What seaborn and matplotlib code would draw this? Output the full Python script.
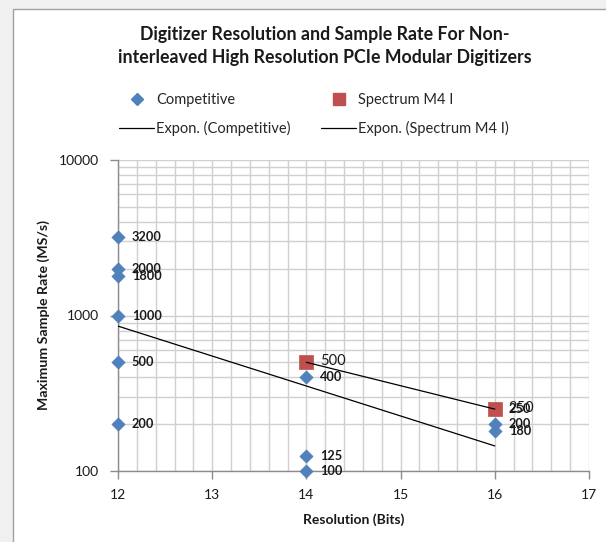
import numpy as np
import pandas as pd
import matplotlib
matplotlib.use("Agg")
import matplotlib.pyplot as plt
from matplotlib.lines import Line2D
from matplotlib.patches import Rectangle
from matplotlib.ticker import LogLocator, FixedLocator, NullFormatter, FuncFormatter
import seaborn as sns

# ---- data ----
comp_bits = [12, 12, 12, 12, 12, 12, 14, 14, 14, 16, 16, 16]
comp_rate = [3200, 2000, 1800, 1000, 500, 200, 400, 125, 100, 250, 200, 180]
spec_bits = [14, 16]
spec_rate = [500, 250]

title = "Digitizer Resolution and Sample Rate For Non-\ninterleaved High Resolution PCIe Modular Digitizers"
x_label = "Resolution (Bits)"
y_label = "Maximum Sample Rate (MS/s)"

sns.set_theme(style="white")
plt.rcParams['font.family'] = ['Lato', 'DejaVu Sans']

BLUE = "#4f81bd"
RED = "#c0504d"
GRID = "#d0d0d0"

W, H = 606, 542
fig = plt.figure(figsize=(W / 100, H / 100), dpi=100)
fig.patch.set_facecolor("#f0f0f0")
fig.patches.append(Rectangle((13 / W, -0.1), 1.2, 1.1 - 9 / H, transform=fig.transFigure,
                             facecolor="white", edgecolor="#a0a0a0", linewidth=1.0, zorder=-10))

ax = fig.add_axes([118 / W, 1 - 471 / H, (589 - 118) / W, (471 - 160) / H])
ax.set_facecolor("white")
ax.set_zorder(1)

comp_df = pd.DataFrame({"bits": comp_bits, "rate": comp_rate, "series": "Competitive"})
spec_df = pd.DataFrame({"bits": spec_bits, "rate": spec_rate, "series": "Spectrum M4 I"})

# exponential trendlines (fit in log space)
def expfit(x, y):
    x = np.asarray(x, float)
    y = np.asarray(y, float)
    b, a = np.polyfit(x, np.log(y), 1)
    xs = np.array([x.min(), x.max()])
    return pd.DataFrame({"bits": xs, "rate": np.exp(a + b * xs)})

comp_fit = expfit(comp_bits, comp_rate)
spec_fit = expfit(spec_bits, spec_rate)

ax.set_yscale("log")
ax.set_xlim(12, 17)
ax.set_ylim(100, 10000)

sns.lineplot(data=comp_fit, x="bits", y="rate", ax=ax, color="black", linewidth=0.9, zorder=3)
sns.lineplot(data=spec_fit, x="bits", y="rate", ax=ax, color="black", linewidth=0.9, zorder=5)
sns.scatterplot(data=comp_df, x="bits", y="rate", ax=ax, marker="D", s=45, color=BLUE,
                edgecolor=BLUE, linewidth=0.5, zorder=4, clip_on=False, legend=False)
sns.scatterplot(data=spec_df, x="bits", y="rate", ax=ax, marker="s", s=95, color=RED,
                edgecolor=RED, linewidth=0.5, zorder=4, clip_on=False, legend=False)

# data labels
for xv, yv in zip(comp_bits, comp_rate):
    ax.annotate(str(yv), (xv, yv), xytext=(10, 0), textcoords="offset points",
                ha="left", va="center", fontsize=9.2, fontweight="bold", color="#1a1a1a", zorder=6)
for xv, yv in zip(spec_bits, spec_rate):
    ax.annotate(str(yv), (xv, yv), xytext=(10, 1), textcoords="offset points",
                ha="left", va="center", fontsize=10.5, color="#1a1a1a", zorder=6)

# grid
ax.xaxis.set_major_locator(FixedLocator([12, 13, 14, 15, 16, 17]))
ax.xaxis.set_minor_locator(FixedLocator(np.arange(12, 17.01, 0.2)))
ax.yaxis.set_major_locator(FixedLocator([100, 1000, 10000]))
ax.yaxis.set_minor_locator(LogLocator(base=10, subs=np.arange(2, 10)))
ax.yaxis.set_minor_formatter(NullFormatter())
ax.yaxis.set_major_formatter(FuncFormatter(lambda v, p: f"{int(round(v))}"))
ax.grid(True, which="both", color=GRID, linewidth=1.0)
ax.set_axisbelow(True)

for s in ["top", "right"]:
    ax.spines[s].set_visible(False)
for s in ["left", "bottom"]:
    ax.spines[s].set_color("#8c8c8c")
    ax.spines[s].set_linewidth(1.0)

ax.tick_params(axis="both", which="major", length=6, width=1, color="#8c8c8c",
               labelsize=10, labelcolor="#1a1a1a", direction="out", bottom=True, left=True)
ax.tick_params(axis="x", which="major", pad=7)
ax.tick_params(axis="y", which="major", pad=8)
ax.tick_params(axis="both", which="minor", length=0)

ax.set_xlabel(x_label, fontsize=10, fontweight="bold", color="#1a1a1a", labelpad=9)
ax.set_ylabel(y_label, fontsize=10.2, fontweight="bold", color="#1a1a1a", labelpad=6)

fig.text(325 / W, 1 - 46 / H, title, ha="center", va="center", fontsize=12.8,
         fontweight="bold", color="#1a1a1a", linespacing=1.45)

handles = [
    Line2D([], [], marker="D", color=BLUE, linestyle="none", markersize=6),
    Line2D([], [], color="black", linewidth=0.9),
    Line2D([], [], marker="s", color=RED, linestyle="none", markersize=8.5),
    Line2D([], [], color="black", linewidth=0.9),
]
labels = ["Competitive", "Expon. (Competitive)", "Spectrum M4 I", "Expon. (Spectrum M4 I)"]
fig.legend(handles, labels, ncol=2, loc="center left", bbox_to_anchor=(119 / W, 1 - 114.5 / H),
           frameon=False, fontsize=10.5, handlelength=2.4, handletextpad=0.15,
           columnspacing=2.1, labelspacing=1.0, borderaxespad=0, borderpad=0)

fig.savefig("out.png", dpi=100, facecolor=fig.get_facecolor())
